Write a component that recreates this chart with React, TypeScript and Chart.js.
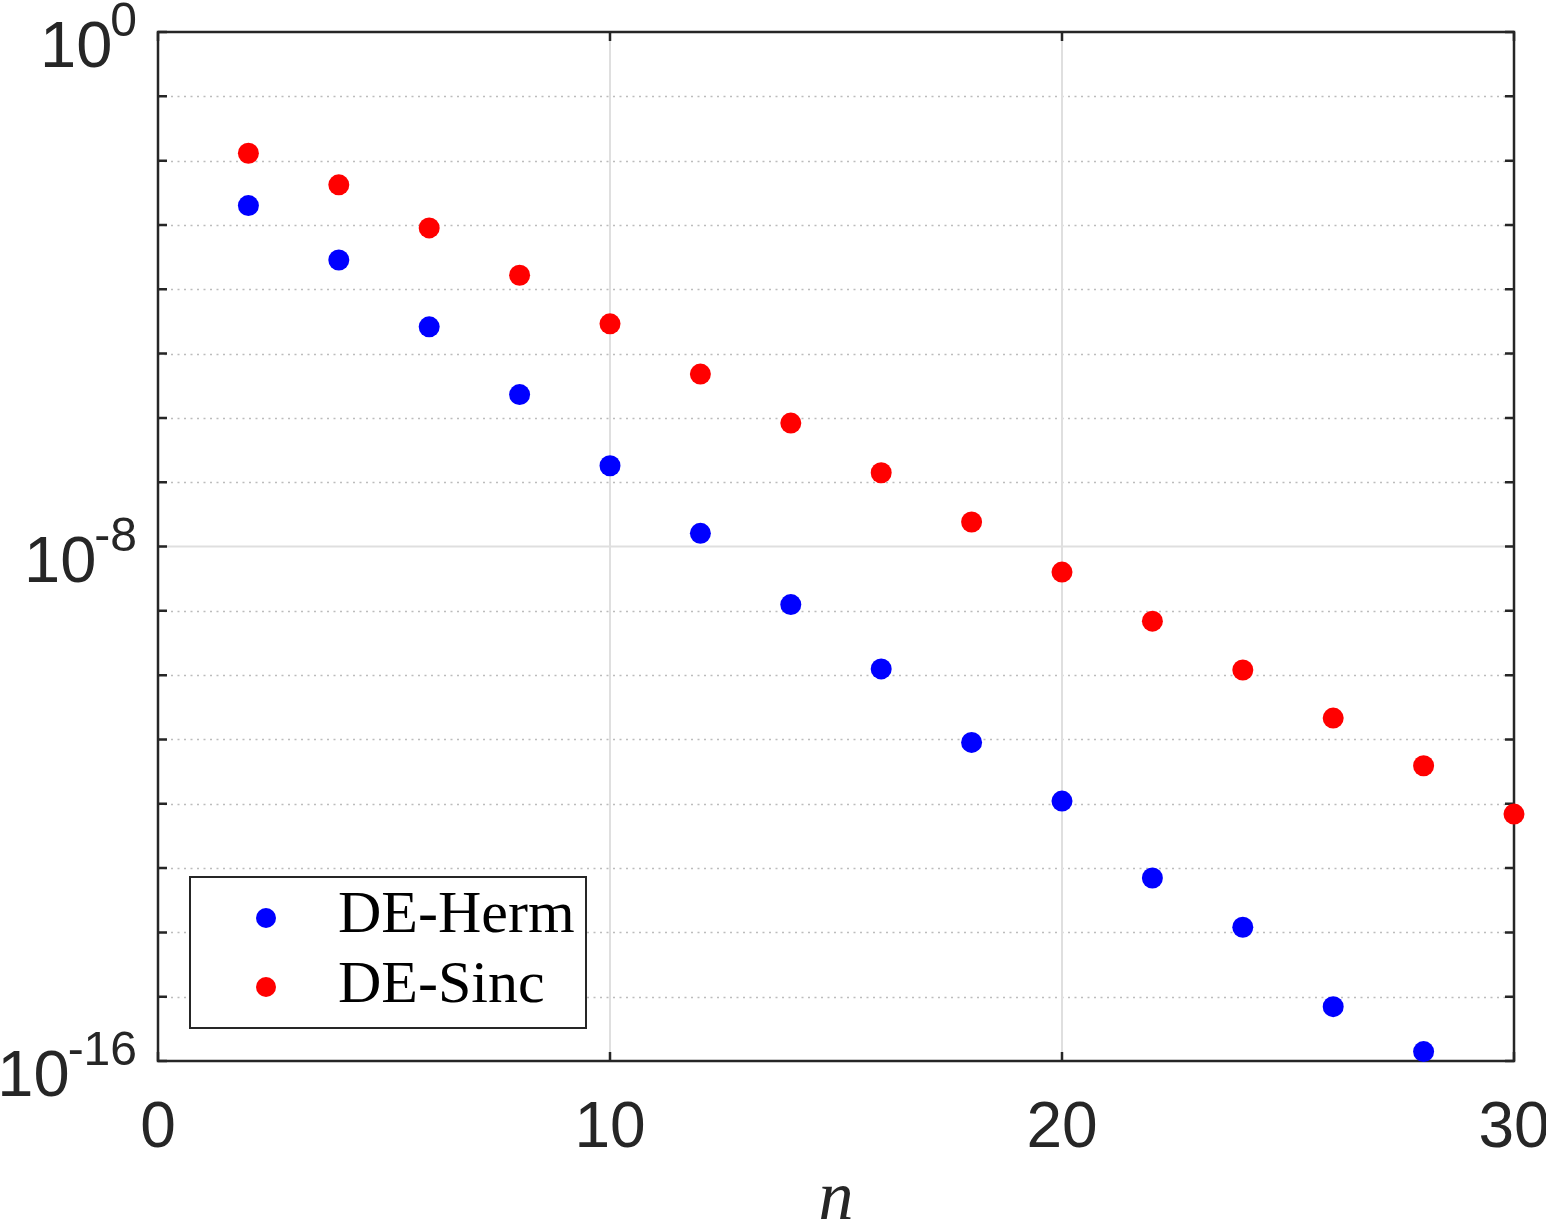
import React, { useEffect, useRef } from 'react';
import { Chart, registerables } from 'chart.js';

Chart.register(...registerables);

// ---- data ----
const nHerm = [2, 4, 6, 8, 10, 12, 14, 16, 18, 20, 22, 24, 26, 28];
const errHerm = [2.0e-3, 2.85e-4, 2.6e-5, 2.3e-6, 1.8e-7, 1.6e-8, 1.25e-9, 1.25e-10, 9.0e-12, 1.1e-12, 7.0e-14, 1.2e-14, 7.0e-16, 1.4e-16];
const nSinc = [2, 4, 6, 8, 10, 12, 14, 16, 18, 20, 22, 24, 26, 28, 30];
const errSinc = [1.3e-2, 4.2e-3, 9.0e-4, 1.65e-4, 2.9e-5, 4.8e-6, 8.3e-7, 1.4e-7, 2.4e-8, 4.0e-9, 6.9e-10, 1.2e-10, 2.15e-11, 3.9e-12, 6.9e-13];
const seriesLabels = ['DE-Herm', 'DE-Sinc'];
const seriesColors = ['#0000ff', '#ff0000'];

const xTickValues = [0, 10, 20, 30];
const yDecadeExps = [0, -1, -2, -3, -4, -5, -6, -7, -8, -9, -10, -11, -12, -13, -14, -15, -16];
const yLabelExps = [0, -8, -16];
const xTitle = 'n';

const AXIS_COLOR = '#262626';
const TICK_FONT = '"Liberation Sans", Arial, Helvetica, sans-serif';
const SERIF_FONT = '"Liberation Serif", "Times New Roman", serif';

const decoratePlugin = {
  id: 'matlabDecor',
  beforeDatasetsDraw(chart: any) {
    const { ctx, chartArea: a, scales } = chart;
    const xs = scales.x;
    const ys = scales.y;
    ctx.save();
    ctx.beginPath();
    ctx.rect(a.left, a.top, a.right - a.left, a.bottom - a.top);
    ctx.clip();
    // minor dotted grid
    ctx.strokeStyle = '#bcbcbc';
    ctx.lineWidth = 1.6;
    ctx.setLineDash([2, 4.5]);
    for (const e of yDecadeExps) {
      if (yLabelExps.includes(e)) continue;
      const y = Math.round(ys.getPixelForValue(Math.pow(10, e))) + 0.5;
      ctx.beginPath();
      ctx.moveTo(a.left, y);
      ctx.lineTo(a.right, y);
      ctx.stroke();
    }
    ctx.setLineDash([]);
    // major grid
    ctx.strokeStyle = '#dfdfdf';
    ctx.lineWidth = 2;
    for (const e of yLabelExps) {
      const y = ys.getPixelForValue(Math.pow(10, e));
      ctx.beginPath();
      ctx.moveTo(a.left, y);
      ctx.lineTo(a.right, y);
      ctx.stroke();
    }
    for (const v of xTickValues) {
      const x = xs.getPixelForValue(v);
      ctx.beginPath();
      ctx.moveTo(x, a.top);
      ctx.lineTo(x, a.bottom);
      ctx.stroke();
    }
    ctx.restore();

    // axes box + ticks
    ctx.save();
    ctx.strokeStyle = AXIS_COLOR;
    ctx.lineWidth = 2.5;
    ctx.strokeRect(a.left, a.top, a.right - a.left, a.bottom - a.top);
    const tl = 9;
    for (const e of yDecadeExps) {
      const y = ys.getPixelForValue(Math.pow(10, e));
      ctx.beginPath();
      ctx.moveTo(a.left, y);
      ctx.lineTo(a.left + tl, y);
      ctx.moveTo(a.right, y);
      ctx.lineTo(a.right - tl, y);
      ctx.stroke();
    }
    for (const v of xTickValues) {
      const x = xs.getPixelForValue(v);
      ctx.beginPath();
      ctx.moveTo(x, a.bottom);
      ctx.lineTo(x, a.bottom - tl);
      ctx.moveTo(x, a.top);
      ctx.lineTo(x, a.top + tl);
      ctx.stroke();
    }
    ctx.restore();
  },
  afterDraw(chart: any) {
    const { ctx, chartArea: a, scales } = chart;
    const xs = scales.x;
    const ys = scales.y;
    ctx.save();
    ctx.fillStyle = AXIS_COLOR;
    // y labels 10^e
    const labelRight = a.left - 21;
    for (const e of yLabelExps) {
      const y = ys.getPixelForValue(Math.pow(10, e));
      const sup = String(e);
      ctx.font = `48px ${TICK_FONT}`;
      ctx.textAlign = 'right';
      ctx.textBaseline = 'alphabetic';
      const supW = ctx.measureText(sup).width;
      ctx.fillText(sup, labelRight, y + 4);
      ctx.font = `65px ${TICK_FONT}`;
      ctx.fillText('10', labelRight - supW + 2, y + 35);
    }
    // x labels
    ctx.font = `64px ${TICK_FONT}`;
    ctx.textAlign = 'center';
    for (const v of xTickValues) {
      const x = xs.getPixelForValue(v);
      ctx.fillText(String(v), x, a.bottom + 86);
    }
    // x title
    ctx.font = `italic 70px ${SERIF_FONT}`;
    ctx.fillText(xTitle, (a.left + a.right) / 2, a.bottom + 158);

    // legend
    const lx = 190, ly = 877, lw = 396, lh = 151;
    ctx.fillStyle = '#ffffff';
    ctx.fillRect(lx, ly, lw, lh);
    ctx.strokeStyle = AXIS_COLOR;
    ctx.lineWidth = 2;
    ctx.strokeRect(lx, ly, lw, lh);
    const rows = [{ my: 918, by: 932 }, { my: 987, by: 1002 }];
    chart.data.datasets.forEach((ds: any, i: number) => {
      ctx.fillStyle = ds.backgroundColor;
      ctx.beginPath();
      ctx.arc(266, rows[i].my, 10, 0, Math.PI * 2);
      ctx.fill();
      ctx.fillStyle = '#000000';
      ctx.font = `60px ${SERIF_FONT}`;
      ctx.textAlign = 'left';
      ctx.fillText(ds.label, 338, rows[i].by);
    });
    ctx.restore();
  },
};

export default function App() {
  const ref = useRef<HTMLCanvasElement | null>(null);
  useEffect(() => {
    document.body.style.margin = '0';
    const canvas = ref.current;
    if (!canvas) return;
    const chart = new Chart(canvas, {
      type: 'scatter',
      data: {
        datasets: [
          {
            label: seriesLabels[0],
            data: nHerm.map((n, i) => ({ x: n, y: errHerm[i] })),
            backgroundColor: seriesColors[0],
            borderWidth: 0,
            pointRadius: 10.5,
            clip: false,
          },
          {
            label: seriesLabels[1],
            data: nSinc.map((n, i) => ({ x: n, y: errSinc[i] })),
            backgroundColor: seriesColors[1],
            borderWidth: 0,
            pointRadius: 10.5,
            clip: false,
          },
        ],
      } as any,
      options: {
        animation: false,
        responsive: false,
        maintainAspectRatio: false,
        devicePixelRatio: 1,
        layout: { padding: { left: 158, top: 32, right: 32, bottom: 162 } },
        plugins: { legend: { display: false }, tooltip: { enabled: false } },
        events: [],
        scales: {
          x: { type: 'linear', min: 0, max: 30, display: false },
          y: { type: 'logarithmic', min: 1e-16, max: 1, display: false },
        },
      } as any,
      plugins: [decoratePlugin],
    });
    return () => chart.destroy();
  }, []);
  return (
    <div style={{ width: 1546, height: 1223, background: '#ffffff' }}>
      <canvas ref={ref} width={1546} height={1223} style={{ display: 'block', width: 1546, height: 1223 }} />
    </div>
  );
}
